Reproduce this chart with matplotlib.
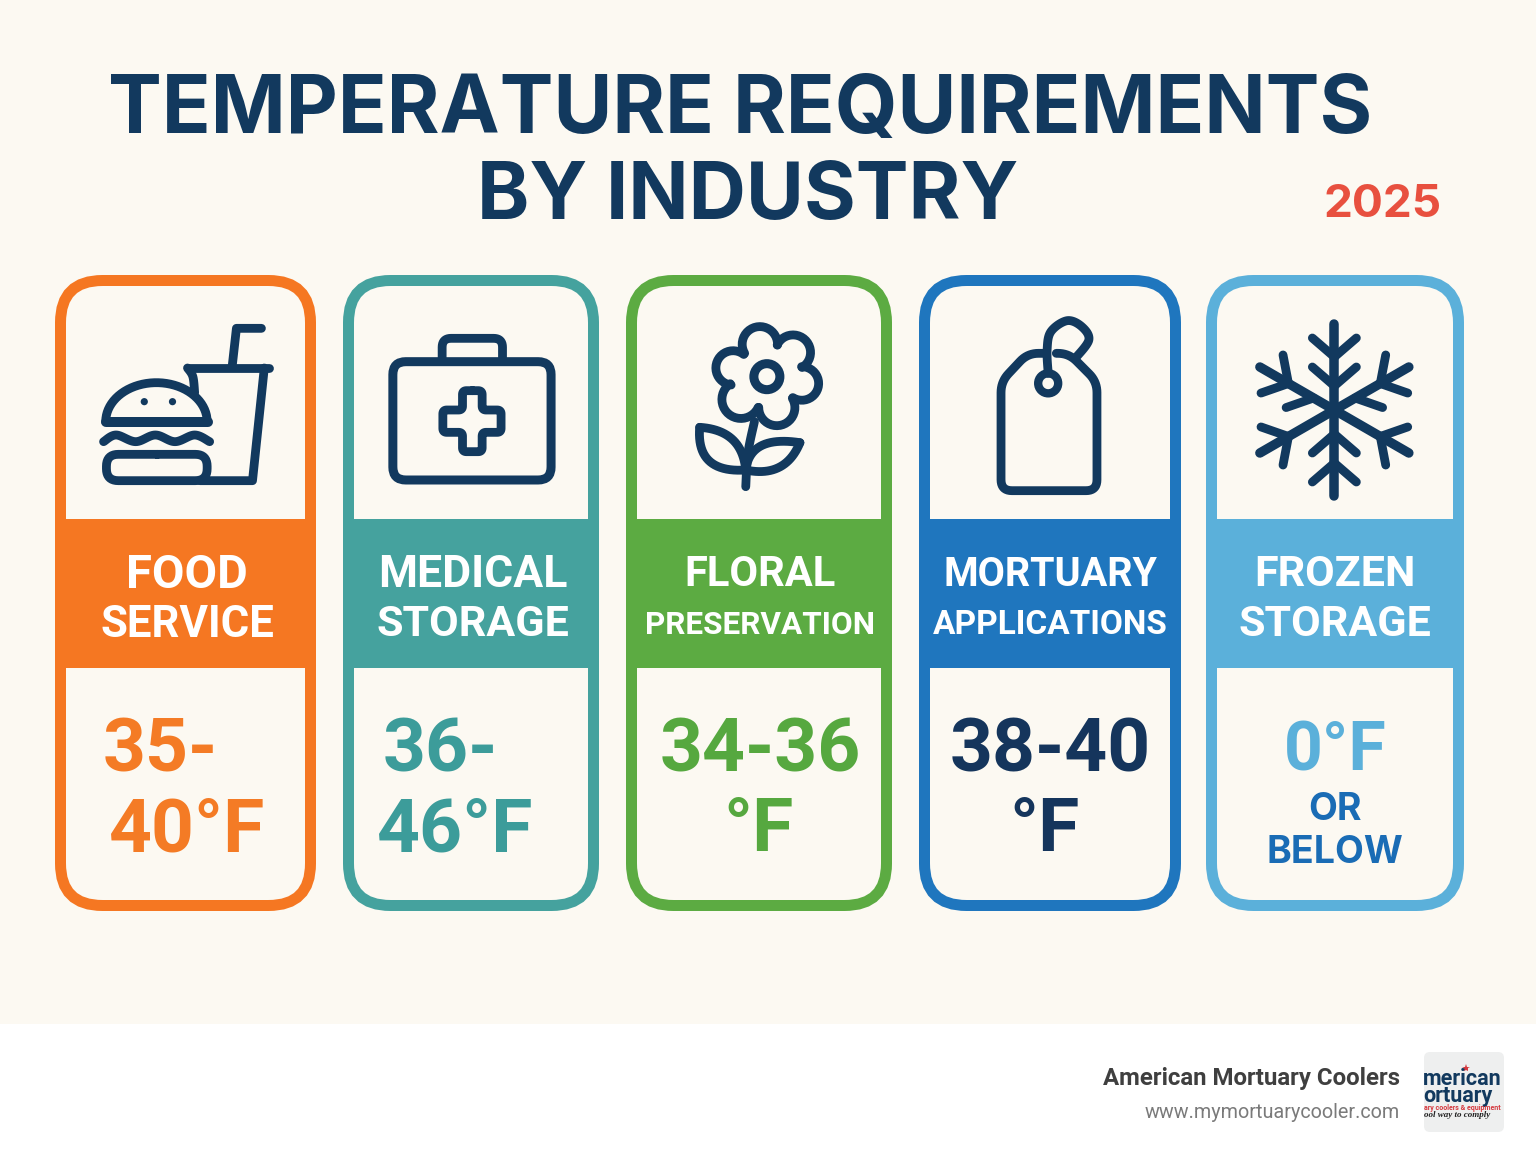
import numpy as np
import matplotlib
matplotlib.use('Agg')
import matplotlib.pyplot as plt
from matplotlib.patches import FancyBboxPatch, Rectangle, Circle

plt.rcParams['font.family'] = ['Inter', 'DejaVu Sans']

NAVY = '#12395E'
CREAM = '#FCF9F2'

# Card content
line_one = ['FOOD', 'MEDICAL', 'FLORAL', 'MORTUARY', 'FROZEN']
line_two = ['SERVICE', 'STORAGE', 'PRESERVATION', 'APPLICATIONS', 'STORAGE']
value_one = ['35-', '36-', '34-36', '38-40', '0°F']
value_two = ['40°F', '46°F', '°F', '°F', '']
card_colors = ['#F57722', '#45A29E', '#5CAB42', '#1F76BE', '#5BB0DA']
value_colors = ['#F47B25', '#3C9C9A', '#56A83F', '#15355C', '#5BB0DA']

# Card geometry in pixels
card_left = [55, 343, 626, 919, 1206]
card_right = [316, 599, 892, 1181, 1464]
label_x = [187, 473, 760, 1050, 1335]
label_size = [[34, 31.5], [32, 31], [30, 22.7], [28.5, 24], [31, 31]]
value_x = [[160, 440, 760, 1050, 1335], [187, 455, 759, 1045, 1335]]
value_size = [54, 54, 54, 54, 49]

fig = plt.figure(figsize=(15.36, 11.54), dpi=100)
ax = fig.add_axes([0, 0, 1, 1])
ax.set_xlim(0, 1536)
ax.set_ylim(1154, 0)
ax.axis('off')

ax.add_patch(Rectangle((0, 0), 1536, 1024, fc=CREAM, ec='none'))

ax.text(740, 112, 'TEMPERATURE REQUIREMENTS', ha='center', va='center', color=NAVY, fontsize=58, fontweight='bold')
ax.text(748, 198, 'BY INDUSTRY', ha='center', va='center', color=NAVY, fontsize=57, fontweight='bold')
ax.text(1383, 205, '2025', ha='center', va='center', color='#E8503F', fontsize=33, fontweight='bold')


def smooth(pts, closed=False, n=14):
    # Catmull-Rom through the points, good enough for the icon outlines
    p = np.array(pts, dtype=float)
    if closed:
        p = np.vstack([p[-1], p, p[0], p[1]])
    else:
        p = np.vstack([p[0], p, p[-1]])
    out = []
    for i in range(1, len(p) - 2):
        for t in np.linspace(0, 1, n, endpoint=False):
            out.append(0.5 * (2 * p[i] + (p[i + 1] - p[i - 1]) * t
                              + (2 * p[i - 1] - 5 * p[i] + 4 * p[i + 1] - p[i + 2]) * t ** 2
                              + (3 * p[i] - p[i - 1] - 3 * p[i + 1] + p[i + 2]) * t ** 3))
    out.append(p[-2])
    return np.array(out)


def quad(a, ctrl, b, n=24):
    t = np.linspace(0, 1, n)[:, None]
    a, ctrl, b = np.array(a), np.array(ctrl), np.array(b)
    return (1 - t) ** 2 * a + 2 * t * (1 - t) * ctrl + t ** 2 * b


def rounded(pts, r):
    # polyline with its inner corners filleted
    p = np.array(pts, dtype=float)
    out = [p[:1]]
    for i in range(1, len(p) - 1):
        d0 = (p[i - 1] - p[i]) / np.linalg.norm(p[i - 1] - p[i])
        d1 = (p[i + 1] - p[i]) / np.linalg.norm(p[i + 1] - p[i])
        out.append(quad(p[i] + d0 * r, p[i], p[i] + d1 * r, 10))
    out.append(p[-1:])
    return np.vstack(out)


def stroke(pts, lw=8.8):
    pts = np.asarray(pts)
    ax.plot(pts[:, 0], pts[:, 1], color=NAVY, lw=lw * 0.72, solid_capstyle='round', solid_joinstyle='round')


def left_icon(pts):
    return np.array(pts, dtype=float) / [2.8, 3] + [50, 270]


def right_icon(pts):
    return np.array(pts, dtype=float) / [1.845, 3] + [620, 270]


def round_box(x0, y0, x1, y1, r, lw, ec, fc='none'):
    ax.add_patch(FancyBboxPatch((x0 + r, y0 + r), x1 - x0 - 2 * r, y1 - y0 - 2 * r,
                                boxstyle=f'round,pad={r},rounding_size={r}',
                                fc=fc, ec=ec, lw=lw * 0.72))


# Cards
for i in range(5):
    l, r = card_left[i], card_right[i]
    round_box(l + 5.5, 280.5, r - 5.5, 905.5, 42, 11, card_colors[i], fc=CREAM)
    ax.add_patch(Rectangle((l, 519), r - l, 149, fc=card_colors[i], ec='none'))
    ax.text(label_x[i], 575, line_one[i], ha='center', va='center', color='white',
            fontsize=label_size[i][0], fontweight='bold', family='Roboto')
    ax.text(label_x[i], 625, line_two[i], ha='center', va='center', color='white',
            fontsize=label_size[i][1], fontweight='bold', family='Roboto')
    ax.text(value_x[0][i], 752, value_one[i], ha='center', va='center', color=value_colors[i],
            fontsize=value_size[i], fontweight='bold', family='Roboto')
    if value_two[i]:
        ax.text(value_x[1][i], 831, value_two[i], ha='center', va='center', color=value_colors[i],
                fontsize=value_size[i], fontweight='bold', family='Roboto')
ax.text(1335, 810, 'OR', ha='center', va='center', color='#1A6CB5', fontsize=27, fontweight='bold')
ax.text(1335, 853, 'BELOW', ha='center', va='center', color='#1A6CB5', fontsize=27, fontweight='bold')

# Burger and drink
stroke(left_icon([(156, 455), (441, 455)]), 10)
t = np.linspace(np.pi, 2 * np.pi, 40)
stroke(left_icon(np.column_stack([298 + 142 * np.cos(t), 455 + 117 * np.sin(t)])))
stroke(smooth(left_icon([(150, 515), (185, 495), (240, 515), (295, 495), (350, 515), (405, 495), (447, 515)])))
stroke(rounded(left_icon([(300, 553), (158, 553), (158, 632), (440, 632), (440, 553), (300, 553)]), 12))
ax.add_patch(Circle(left_icon([(264, 395)])[0], 3.6, fc=NAVY, ec='none'))
ax.add_patch(Circle(left_icon([(343, 395)])[0], 3.6, fc=NAVY, ec='none'))
stroke(left_icon([(385, 294), (614, 294)]))
stroke(smooth(left_icon([(385, 294), (400, 320), (405, 368)])))
stroke(left_icon([(600, 294), (567, 632), (420, 632)]))
stroke(left_icon([(510, 290), (522, 175), (592, 175)]))

# First aid kit
p0 = left_icon([(960, 275)])[0]
p1 = left_icon([(1403, 630)])[0]
round_box(p0[0], p0[1], p1[0], p1[1], 13, 9, NAVY)
stroke(rounded(left_icon([(1098, 270), (1098, 205), (1267, 205), (1267, 270)]), 9))
stroke(rounded(left_icon([(1183, 362), (1210, 362), (1210, 420), (1263, 420), (1263, 487), (1210, 487), (1210, 545),
                          (1155, 545), (1155, 487), (1100, 487), (1100, 420), (1155, 420), (1155, 362),
                          (1183, 362)]), 4))

# Flower, one arc between each pair of notches
flower_c = right_icon([(271, 320)])[0]
notches = right_icon([(230, 250), (290, 225), (335, 290), (318, 385), (255, 412), (205, 345)])
for i in range(6):
    a, b = notches[i], notches[(i + 1) % 6]
    mid = (a + b) / 2
    out = (mid - flower_c) / np.linalg.norm(mid - flower_c)
    pc = mid + out * 5
    R = np.linalg.norm(a - pc)
    a0 = np.arctan2(*(a - pc)[::-1])
    a1 = np.arctan2(*(b - pc)[::-1])
    if a1 < a0:
        a1 += 2 * np.pi
    ang = np.linspace(a0, a1, 24)
    stroke(np.column_stack([pc[0] + R * np.cos(ang), pc[1] + R * np.sin(ang)]))
ax.add_patch(Circle(flower_c, 13, fc='none', ec=NAVY, lw=6.5))
stroke(smooth(right_icon([(248, 455), (236, 550), (232, 650)])))
leaf_base = right_icon([(232, 600)])[0]
leaf_l = right_icon([(147, 472)])[0]
leaf_r = right_icon([(332, 518)])[0]
stroke(quad(leaf_l, right_icon([(225, 480)])[0], leaf_base))
stroke(quad(leaf_l, right_icon([(140, 610)])[0], leaf_base))
stroke(quad(leaf_r, right_icon([(240, 495)])[0], leaf_base))
stroke(quad(leaf_r, right_icon([(305, 625)])[0], leaf_base))

# Tag
stroke(rounded(right_icon([(782, 250), (752, 250), (703, 335), (703, 662), (880, 662), (880, 335), (828, 250), (805, 250)]), 11))
ax.add_patch(Circle(right_icon([(790, 340)])[0], 10, fc=CREAM, ec=NAVY, lw=6))
stroke(smooth(right_icon([(790, 310), (788, 240), (795, 185), (825, 152), (852, 170), (865, 210), (840, 265)])))

# Snowflake, six arms, inner branches only where the picture has them
cx, cy = right_icon([(1318, 420)])[0]
c = np.array([cx, cy])
inner_sides = [[1, -1], [1], [], [1, -1], [], [-1]]
for k in range(6):
    a = np.deg2rad(60 * k)
    up = np.array([np.sin(a), -np.cos(a)])
    side = np.array([np.cos(a), np.sin(a)])
    stroke([c, c + 86 * up], 9.5)
    for s in (1, -1):
        stroke([c + 53 * up, c + 72 * up + s * 22 * side])
    for s in inner_sides[k]:
        stroke([c + 24 * up, c + 43 * up + s * 22 * side])

# Footer
ax.text(1400, 1079, 'American Mortuary Coolers', ha='right', va='center', color='#3F3F3F',
        fontsize=17.3, fontweight='semibold', family='Roboto')
ax.text(1400, 1112, 'www.mymortuarycooler.com', ha='right', va='center', color='#7A7A7A',
        fontsize=14.2, family='Roboto')

logo = FancyBboxPatch((1428, 1056), 72, 72, boxstyle='round,pad=4,rounding_size=6', fc='#EEEFEF', ec='none')
ax.add_patch(logo)
logo_text = [
    (1423, 1085, 'merican', NAVY, 15.5, 'bold', 'normal', 'Roboto'),
    (1423, 1102, 'ortuary', NAVY, 15.5, 'bold', 'normal', 'Roboto'),
    (1424, 1110, 'ary coolers & equipment', '#D5393F', 5, 'bold', 'normal', 'Roboto'),
    (1424, 1117, 'ool way to comply', '#222222', 6.5, 'bold', 'italic', 'Liberation Serif'),
]
for x, y, s, c_, size, weight, style, fam in logo_text:
    lt = ax.text(x, y, s, ha='left', va='baseline', color=c_, fontsize=size, fontweight=weight,
                 fontstyle=style, family=fam, clip_on=True)
    lt.set_clip_path(logo)
ax.plot([1466], [1068], marker='*', color='#D5393F', ms=6, mew=0)

fig.savefig('out.png', dpi=100, facecolor='white')
